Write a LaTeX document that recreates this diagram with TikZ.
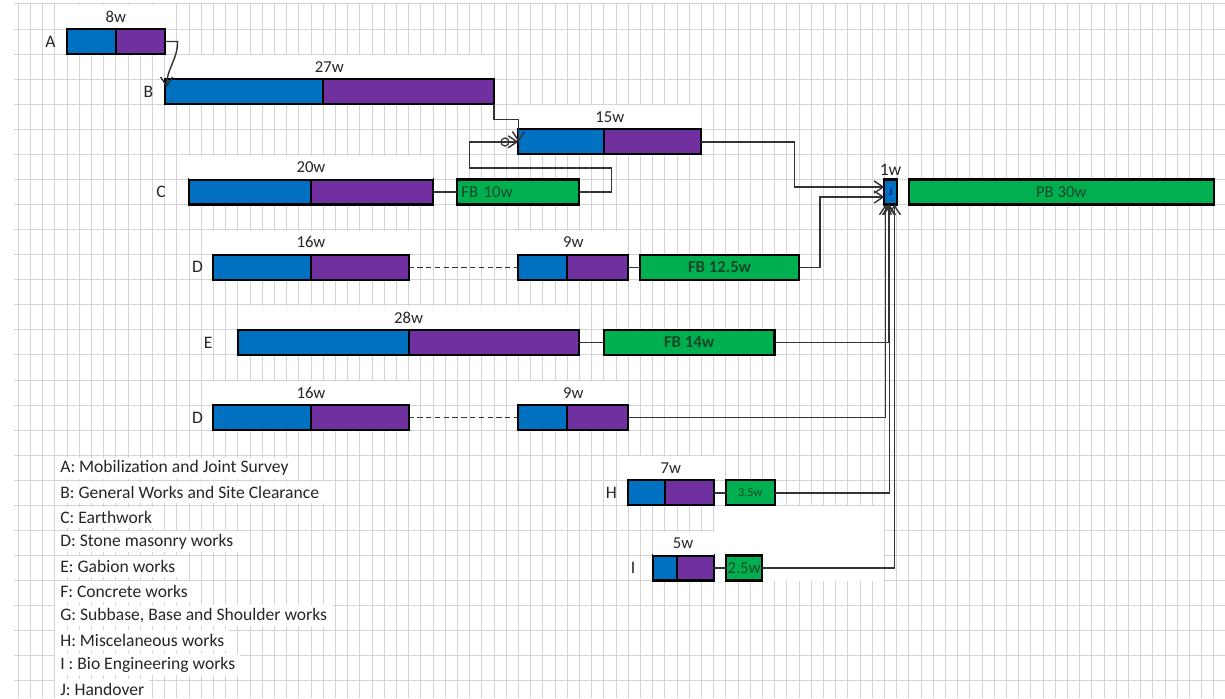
\documentclass[tikz,border=0pt]{standalone}
\usepackage{fontspec}
\setmainfont{Carlito}
\usetikzlibrary{arrows.meta,positioning,calc}
\usepackage{xcolor}

\definecolor{wblue}{RGB}{0,112,192}
\definecolor{wpurple}{RGB}{112,48,160}
\definecolor{wgreen}{RGB}{0,176,80}
\definecolor{fbtext}{RGB}{22,72,38}
\definecolor{gridgray}{RGB}{212,212,212}
\newcommand{\pxu}{0.02cm}
\newcommand{\wk}{0.244cm}

\begin{document}
\begin{tikzpicture}[
    x=\pxu, y={(0,-\pxu)},
    blu/.style={draw, line width=1.2pt, fill=wblue, anchor=west, minimum height=25*\pxu, inner sep=0pt, outer sep=0pt},
    pur/.style={blu, fill=wpurple},
    fb/.style={blu, fill=wgreen, text=fbtext, font=\fontsize{9.5}{10}\selectfont},
    dur/.style={fill=white, text=black!85, font=\fontsize{9.5}{10}\selectfont, inner sep=0pt, minimum height=23*\pxu},
    tag/.style={text=black!85, font=\fontsize{10}{11}\selectfont, inner sep=0pt},
    link/.style={draw=black!80, line width=0.8pt},
    arr/.style={link, -{Straight Barb[length=1.8mm, width=2.4mm]}},
    gridline/.style={draw=gridgray, line width=0.5pt},
    legend/.style={fill=white, anchor=west, text=black!85, font=\fontsize{10}{11}\selectfont, inner xsep=5*\pxu, inner ysep=0pt, minimum height=21*\pxu}
]
\fill[white] (0,0) rectangle (1225,698);
\useasboundingbox (0,0) rectangle (1225,698);

% spreadsheet grid
\foreach \k in {-4,...,94}
    \draw[gridline] (67+12.2*\k,4) -- (67+12.2*\k,698);
\foreach \m in {-1,...,26}
    \draw[gridline] (14,29+25.07*\m) -- (1225,29+25.07*\m);
\fill[white] (714,506) rectangle (884,581);

% A and B
\node[blu, minimum width=4*\wk] (A) at (67,41.5) {};
\node[pur, minimum width=4*\wk, right=0pt of A] (Ap) {};
\node[tag, left=11*\pxu of A] (tA) {A};
\node[dur, minimum width=8*\wk] (dA) at ($(A.north west)!.5!(Ap.north east)+(0,-12.5)$) {8w};

\node[blu, minimum width=13*\wk] (B) at (164.6,91.7) {};
\node[pur, minimum width=14*\wk, right=0pt of B] (Bp) {};
\node[tag, left=11*\pxu of B] (tB) {B};
\node[dur, minimum width=27*\wk] (dB) at ($(B.north west)!.5!(Bp.north east)+(0,-12.5)$) {27w};

% unlabelled 15 week task
\node[blu, minimum width=7*\wk] (F) at (518.4,141.8) {};
\node[pur, minimum width=8*\wk, right=0pt of F] (Fp) {};
\node[dur, minimum width=15*\wk] (dF) at ($(F.north west)!.5!(Fp.north east)+(0,-12.5)$) {15w};

% C
\node[blu, minimum width=10*\wk] (C) at (189,192) {};
\node[pur, minimum width=10*\wk, right=0pt of C] (Cp) {};
\node[tag, left=23*\pxu of C] (tC) {C};
\node[dur, minimum width=20*\wk] (dC) at ($(C.north west)!.5!(Cp.north east)+(0,-12.5)$) {20w};
\node[fb, minimum width=10*\wk, text width=2.28cm, align=left, right=2*\wk of Cp] (fbC) {FB 10w};

% J and PB
\node[blu, minimum width=1*\wk, font=\fontsize{6}{6}\selectfont, text=black!60!blue] (J) at (884.4,192) {J};
\node[tag, above=4*\pxu of J] (dJ) {1w};
\node[fb, minimum width=25*\wk, right=1*\wk of J] (PB) {PB 30w};

% D (first)
\node[blu, minimum width=8*\wk] (D1) at (213.4,267.2) {};
\node[pur, minimum width=8*\wk, right=0pt of D1] (D1p) {};
\node[tag, left=10*\pxu of D1] (tD1) {D};
\node[dur, minimum width=16*\wk] (dD1) at ($(D1.north west)!.5!(D1p.north east)+(0,-12.5)$) {16w};
\node[blu, minimum width=4*\wk, right=9*\wk of D1p] (D1b) {};
\node[pur, minimum width=5*\wk, right=0pt of D1b] (D1bp) {};
\node[dur, minimum width=9*\wk] (dD1b) at ($(D1b.north west)!.5!(D1bp.north east)+(0,-12.5)$) {9w};
\node[fb, font=\fontsize{9.5}{10}\selectfont\bfseries, minimum width=13*\wk, right=1*\wk of D1bp] (fbD) {FB 12.5w};

% E
\node[blu, minimum width=14*\wk] (E) at (237.8,342.4) {};
\node[pur, minimum width=14*\wk, right=0pt of E] (Ep) {};
\node[tag, left=25*\pxu of E] (tE) {E};
\node[dur, minimum width=28*\wk] (dE) at ($(E.north west)!.5!(Ep.north east)+(0,-12.5)$) {28w};
\node[fb, font=\fontsize{9.5}{10}\selectfont\bfseries, minimum width=14*\wk, right=2*\wk of Ep] (fbE) {FB 14w};

% D (second)
\node[blu, minimum width=8*\wk] (D2) at (213.4,417.6) {};
\node[pur, minimum width=8*\wk, right=0pt of D2] (D2p) {};
\node[tag, left=10*\pxu of D2] (tD2) {D};
\node[dur, minimum width=16*\wk] (dD2) at ($(D2.north west)!.5!(D2p.north east)+(0,-12.5)$) {16w};
\node[blu, minimum width=4*\wk, right=9*\wk of D2p] (D2b) {};
\node[pur, minimum width=5*\wk, right=0pt of D2b] (D2bp) {};
\node[dur, minimum width=9*\wk] (dD2b) at ($(D2b.north west)!.5!(D2bp.north east)+(0,-12.5)$) {9w};

% H and I
\node[blu, minimum width=3*\wk] (H) at (628.2,492.8) {};
\node[pur, minimum width=4*\wk, right=0pt of H] (Hp) {};
\node[tag, left=11*\pxu of H] (tH) {H};
\node[dur, minimum width=7*\wk] (dH) at ($(H.north west)!.5!(Hp.north east)+(0,-12.5)$) {7w};
\node[fb, font=\fontsize{7}{8}\selectfont, minimum width=4*\wk, right=1*\wk of Hp] (fbH) {3.5w};

\node[blu, minimum width=2*\wk] (I) at (652.6,568) {};
\node[pur, minimum width=3*\wk, right=0pt of I] (Ip) {};
\node[tag, left=17*\pxu of I] (tI) {I};
\node[dur, minimum width=5*\wk] (dI) at ($(I.north west)!.5!(Ip.north east)+(0,-12.5)$) {5w};
\node[fb, font=\fontsize{9.5}{10}\selectfont, minimum width=3*\wk, right=1*\wk of Ip] (fbI) {2.5w};

% legend
\foreach \txt [count=\i from 0] in {A: Mobilization and Joint Survey, B: General Works and Site Clearance, C: Earthwork, D: Stone masonry works, E: Gabion works, F: Concrete works, {G: Subbase, Base and Shoulder works}, H: Miscelaneous works, I : Bio Engineering works, J: Handover}
    \node[legend] (leg\i) at (55,468.3+24.56*\i) {\txt};

% links
\draw[arr] (Ap.east) -- ++(13,0) to[out=-90, in=90] ($(B.north west)+(2,8)$);
\draw[arr] (Bp.south east) -- ++(0,15) -| (F.west);
\draw[link] (Cp.east) -- (fbC.west);
\draw[arr] (fbC.east) -- ++(32,0) -- ++(0,-24) -- ++(-142,0) |- (F.west);
\draw[link, line width=0.7pt] (505,142) circle[radius=4*\pxu];
\draw[arr] (Fp.east) -- ++(93,0) |- ($(J.west)+(0,-5)$);

\draw[link, densely dashed] (D1p.east) -- (D1b.west);
\draw[link] (D1bp.east) -- (fbD.west);
\draw[arr] (fbD.east) -- ++(21,0) |- ($(J.west)+(0,5)$);

\draw[link] (Ep.east) -- (fbE.west);
\draw[arr] (fbE.east) -| ($(J.south)+(-2,0)$);

\draw[link, densely dashed] (D2p.east) -- (D2b.west);
\draw[arr] (D2bp.east) -| ($(J.south)+(-5,0)$);

\draw[link] (Hp.east) -- (fbH.west);
\draw[arr] (fbH.east) -| ($(J.south)+(-1,0)$);
\draw[link] (Ip.east) -- (fbI.west);
\draw[arr] (fbI.east) -| ($(J.south)+(4,0)$);

\end{tikzpicture}
\end{document}
